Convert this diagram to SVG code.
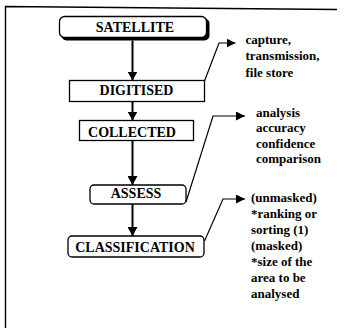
<svg xmlns="http://www.w3.org/2000/svg" width="352" height="328" viewBox="0 0 352 328">
<style>
.box{fill:#fff;stroke:#000;stroke-width:1.3}
.lbl{font-family:"Liberation Serif","Times New Roman",serif;font-weight:bold;font-size:14px;text-anchor:middle;fill:#000}
.note{font-family:"Liberation Serif","Times New Roman",serif;font-weight:bold;font-size:13px;fill:#000}
.flow{stroke:#000;stroke-width:2;fill:none}
.conn{stroke:#000;stroke-width:1.2;fill:none}
.frame{stroke:#000;stroke-width:1.4;fill:none}
</style>
<defs>
<marker id="ah" viewBox="0 0 9 10" markerUnits="userSpaceOnUse" markerWidth="9" markerHeight="10" refX="9" refY="5" orient="auto">
<path d="M0,0 L9,5 L0,10 z" fill="#000"/>
</marker>
<marker id="ah2" viewBox="0 0 9 9" markerUnits="userSpaceOnUse" markerWidth="9" markerHeight="9" refX="9" refY="4.5" orient="auto">
<path d="M0,0 L9,4.5 L0,9 z" fill="#000"/>
</marker>
</defs>
<rect width="352" height="328" fill="#fff"/>
<path class="frame" d="M5.5,328 L5.5,6.5 L337,9.5"/>
<g id="satellite">
<rect x="61.5" y="18.5" width="148" height="22" rx="5" fill="#000"/>
<rect class="box" x="59.5" y="16.5" width="147" height="21" rx="5"/>
<text class="lbl" x="135" y="32">SATELLITE</text>
</g>
<g id="digitised">
<rect class="box" x="69.5" y="80.5" width="135" height="21"/>
<text class="lbl" x="136.5" y="95">DIGITISED</text>
</g>
<g id="collected">
<rect class="box" x="79.5" y="120.5" width="114" height="20"/>
<text class="lbl" x="132" y="136.5">COLLECTED</text>
</g>
<g id="assess">
<rect class="box" x="90" y="185" width="96" height="19" rx="4"/>
<text class="lbl" x="136" y="198">ASSESS</text>
</g>
<g id="classification">
<rect class="box" x="68" y="236" width="136" height="21" rx="4"/>
<text class="lbl" x="135" y="251.5">CLASSIFICATION</text>
</g>
<g id="connectors">
<line class="flow" x1="132.5" y1="40.5" x2="132.5" y2="80.5" marker-end="url(#ah)"/>
<line class="flow" x1="132.5" y1="101.5" x2="132.5" y2="120.5" marker-end="url(#ah)"/>
<line class="flow" x1="132.5" y1="140.5" x2="132.5" y2="185" marker-end="url(#ah)"/>
<line class="flow" x1="132.5" y1="204" x2="132.5" y2="236" marker-end="url(#ah)"/>
<path class="conn" d="M204.5,81 L219,43 L235.5,43" marker-end="url(#ah2)"/>
<path class="conn" d="M186,202 L213,116 L245,116" marker-end="url(#ah2)"/>
<path class="conn" d="M204.5,241 L223,199 L245,199" marker-end="url(#ah2)"/>
</g>
<g id="note-digitised">
<text class="note" x="245.5" y="43.5">capture,</text>
<text class="note" x="245.5" y="60">transmission,</text>
<text class="note" x="245.5" y="76.5">file store</text>
</g>
<g id="note-assess">
<text class="note" x="256" y="116.5">analysis</text>
<text class="note" x="256" y="132">accuracy</text>
<text class="note" x="256" y="147.5">confidence</text>
<text class="note" x="256" y="163">comparison</text>
</g>
<g id="note-classification">
<text class="note" x="251" y="202">(unmasked)</text>
<text class="note" x="251" y="218">*ranking or</text>
<text class="note" x="251" y="234">sorting (1)</text>
<text class="note" x="251" y="250">(masked)</text>
<text class="note" x="251" y="266">*size of the</text>
<text class="note" x="251" y="281.5">area to be</text>
<text class="note" x="251" y="297.5">analysed</text>
</g>
</svg>
